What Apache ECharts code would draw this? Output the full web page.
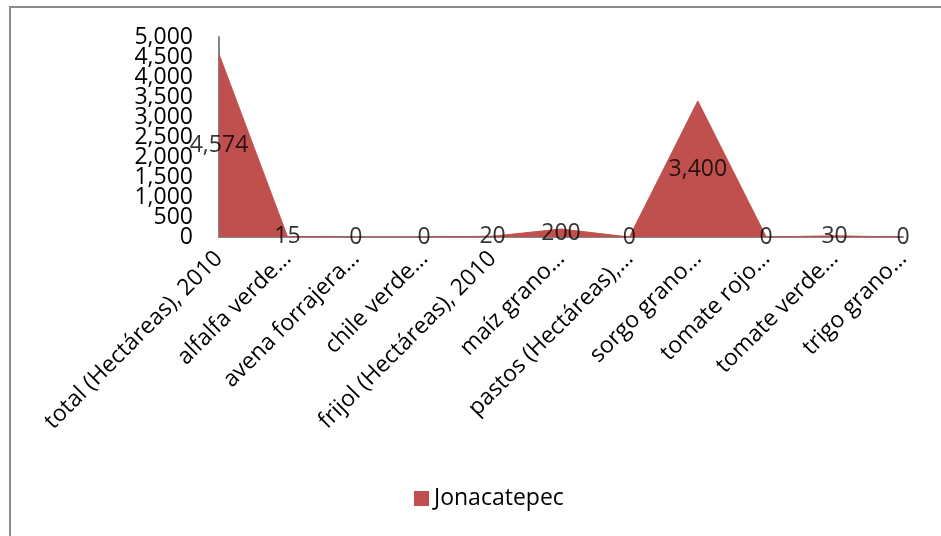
<!DOCTYPE html>
<html>
<head>
<meta charset="utf-8">
<script src="https://cdn.jsdelivr.net/npm/echarts@6/dist/echarts.min.js"></script>
<style>html,body{margin:0;padding:0;background:#fff;}#c{width:941px;height:536px;}</style>
</head>
<body>
<div id="c"></div>
<script>
const categories = ["total (Hectáreas), 2010", "alfalfa verde…", "avena forrajera…", "chile verde…", "frijol (Hectáreas), 2010", "maíz grano…", "pastos (Hectáreas),…", "sorgo grano…", "tomate rojo…", "tomate verde…", "trigo grano…"];
const values = [4574, 15, 0, 0, 20, 200, 0, 3400, 0, 30, 0];
const seriesName = "Jonacatepec";
const yTicks = [0, 5000, 500];

const FONT = "'Open Sans', sans-serif";
const fmt = v => v.toLocaleString('en-US');
const yLabelBase = {margin: 26, fontFamily: FONT, fontSize: 23, color: '#000'};
const yBase = {
  type: 'value', min: yTicks[0], max: yTicks[1], interval: yTicks[2], position: 'left',
  splitLine: {show: false}, axisTick: {show: false}
};
const chart = echarts.init(document.getElementById('c'), null, {renderer: 'canvas'});
chart.setOption({
  animation: false,
  backgroundColor: '#fff',
  graphic: [{
    type: 'rect', shape: {x: 10, y: 7, width: 1000, height: 600},
    style: {fill: 'none', stroke: '#8c8c8c', lineWidth: 2}, silent: true, z: -1
  }],
  grid: {left: 219, right: 38, top: 37, bottom: 299, containLabel: false},
  legend: {
    data: [seriesName], left: 409, top: 482, icon: 'rect', itemWidth: 15, itemHeight: 15, itemGap: 5,
    textStyle: {fontFamily: FONT, fontSize: 23, color: '#000'}
  },
  xAxis: {
    type: 'category', data: categories, boundaryGap: false,
    axisLine: {lineStyle: {color: '#868686', width: 2}},
    axisTick: {show: false},
    axisLabel: {interval: 0, rotate: 45, margin: 18, fontFamily: FONT, fontSize: 23, color: '#000'}
  },
  yAxis: [
    Object.assign({}, yBase, {
      axisLine: {show: true, lineStyle: {color: '#868686', width: 2}},
      axisLabel: Object.assign({}, yLabelBase, {formatter: v => fmt(v)})
    }),
    Object.assign({}, yBase, {
      axisLine: {show: false},
      axisLabel: Object.assign({}, yLabelBase, {showMinLabel: true, showMaxLabel: true,
        formatter: v => (v === yTicks[0] || v === yTicks[1]) ? fmt(v) : ''})
    })
  ],
  series: [{
    name: seriesName, type: 'line', data: values, symbol: 'none', yAxisIndex: 0,
    lineStyle: {color: '#C0504D', width: 1},
    itemStyle: {color: '#C0504D'},
    areaStyle: {color: '#C0504D', opacity: 1}
  }, {
    name: 'labels', type: 'scatter', data: values.map(v => v / 2), yAxisIndex: 0,
    symbolSize: 1, itemStyle: {color: 'rgba(0,0,0,0)'},
    label: {show: true, position: 'inside', fontFamily: FONT, fontSize: 23, color: '#000',
      formatter: p => fmt(values[p.dataIndex])},
    z: 5
  }]
});
</script>
</body>
</html>
